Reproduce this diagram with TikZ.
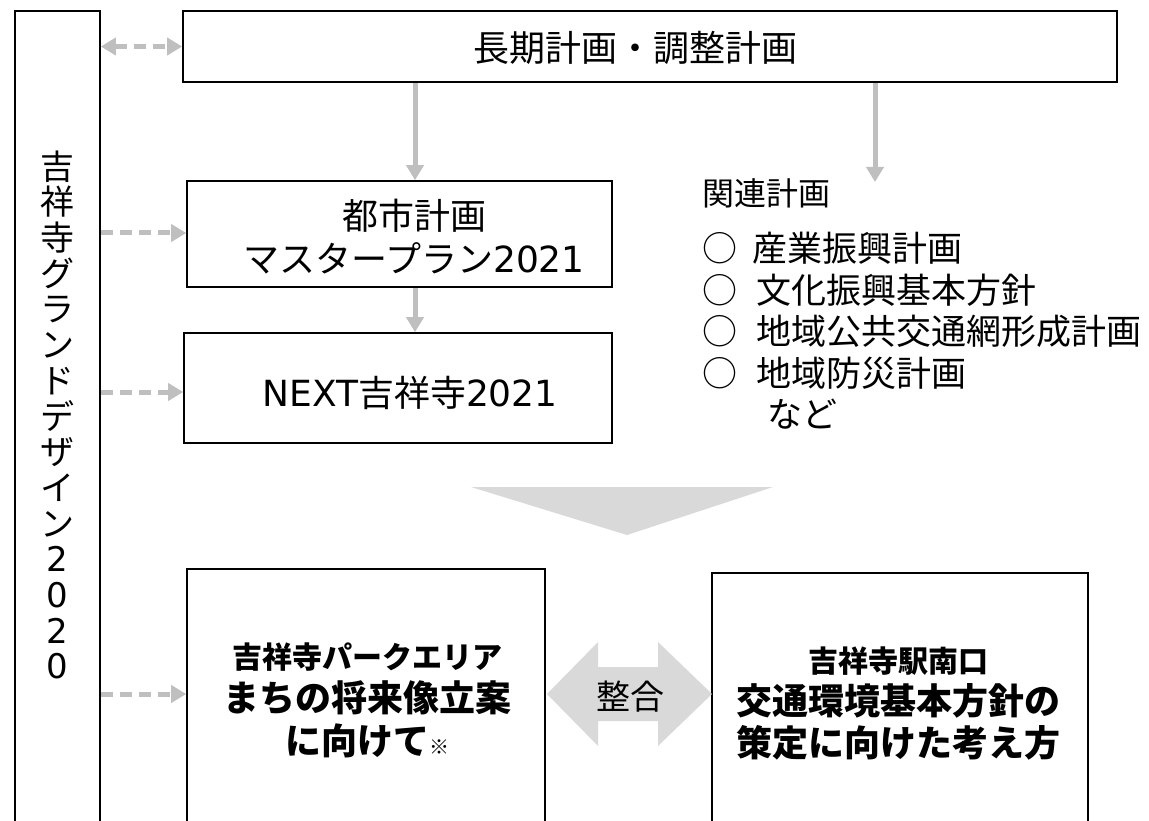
\documentclass[tikz,border=0pt]{standalone}
\usepackage{fontspec}
\setmainfont{Noto Sans CJK JP}
\newfontfamily\lat{DejaVu Sans}
\usetikzlibrary{arrows.meta}
\definecolor{agray}{HTML}{BFBFBF}
\definecolor{fgray}{HTML}{D9D9D9}
\tikzset{
  box/.style={draw=black, line width=1.6pt, fill=white, inner sep=0pt, align=center},
  txt/.style={inner sep=0pt, align=center},
  garrow/.style={draw=agray, line width=5pt, -{Triangle[width=17pt,length=15pt]}},
  darrow/.style={garrow, dash pattern=on 12pt off 7pt},
  ddarrow/.style={draw=agray, line width=5pt, dash pattern=on 12pt off 7pt,
    {Triangle[width=17pt,length=15pt]}-{Triangle[width=17pt,length=15pt]}},
}
\begin{document}
\begin{tikzpicture}[x=1pt,y=-1pt]
\useasboundingbox (0,0) rectangle (1149,821);
\clip (0,0) rectangle (1149,821);

% left vertical box
\node[box, minimum width=85pt, minimum height=814pt] (gd) at (57.5,418) {};
\node[txt, font={\fontsize{34}{35.7}\selectfont}] (gdtext) at (57.5,415) {吉\\祥\\寺\\グ\\ラ\\ン\\ド\\デ\\ザ\\イ\\ン\\{\lat 2}\\{\lat 0}\\{\lat 2}\\{\lat 0}};

% top box
\node[box, minimum width=934pt, minimum height=71pt] (top) at (650,46.5) {};
\node[txt, font={\fontsize{36}{40}\selectfont}] (toptext) at (635,48) {長期計画・調整計画};

% master plan box
\node[box, minimum width=425pt, minimum height=106pt] (mp) at (399.5,234) {};
\node[txt, font={\fontsize{36}{43}\selectfont}] (mptext) at (414,237) {都市計画\\マスタープラン{\lat 2021}};

% NEXT box
\node[box, minimum width=428pt, minimum height=110pt] (nx) at (398,388) {};
\node[txt, font={\fontsize{36}{43}\selectfont}] (nxtext) at (410,393) {{\lat NEXT}吉祥寺{\lat 2021}};

% related plans
\node[txt, anchor=west, font={\fontsize{32}{40}\selectfont}] (kanren) at (702,193) {関連計画};
\node[txt, anchor=north west, align=left, font={\fontsize{35}{41.5}\selectfont}] (list) at (702,232) {%
○\hspace{15pt}産業振興計画\\
○\hspace{19pt}文化振興基本方針\\
○\hspace{19pt}地域公共交通網形成計画\\
○\hspace{19pt}地域防災計画\\
\hspace{65pt}など};

% big downward triangle
\fill[fgray] (471,487) -- (773,487) -- (627,535) -- cycle;

% bottom boxes
\node[box, minimum width=358pt, minimum height=256pt] (pk) at (366,697) {};
\node[txt, font={\bfseries\fontsize{36}{43}\selectfont}] (pktext) at (367,700) {{\fontsize{30}{43}\selectfont 吉祥寺パークエリア}\\
まちの将来像立案\\
に向けて{\fontsize{20}{20}\selectfont ※}};

\node[box, minimum width=376pt, minimum height=252pt] (st) at (900,699) {};
\node[txt, font={\bfseries\fontsize{36}{42}\selectfont}] (sttext) at (898,703) {{\fontsize{30}{42}\selectfont 吉祥寺駅南口}\\
交通環境基本方針の\\
策定に向けた考え方};

% double arrow (整合)
\fill[fgray] (547,694) -- (598,642) -- (598,667) -- (658,667) -- (658,642)
  -- (712,694) -- (658,746) -- (658,721) -- (598,721) -- (598,746) -- cycle;
\node[txt, font={\fontsize{34}{40}\selectfont}] (seigo) at (630,697) {整合};

% solid arrows
\coordinate (ax1) at (415,0);
\coordinate (ax2) at (875,0);
\coordinate (kend) at (875,182);
\draw[garrow] (top.south -| ax1) -- (mp.north -| ax1);
\draw[garrow] (top.south -| ax2) -- (kend);
\draw[garrow] (mp.south -| ax1) -- (nx.north -| ax1);

% dashed arrows from left box
\draw[ddarrow] (gd.east |- top.west) -- (top.west);
\draw[darrow] (gd.east |- 0,233) -- (mp.west |- 0,233);
\draw[darrow] (gd.east |- 0,392) -- (nx.west |- 0,392);
\draw[darrow] (gd.east |- 0,694) -- (pk.west |- 0,694);
\end{tikzpicture}
\end{document}
